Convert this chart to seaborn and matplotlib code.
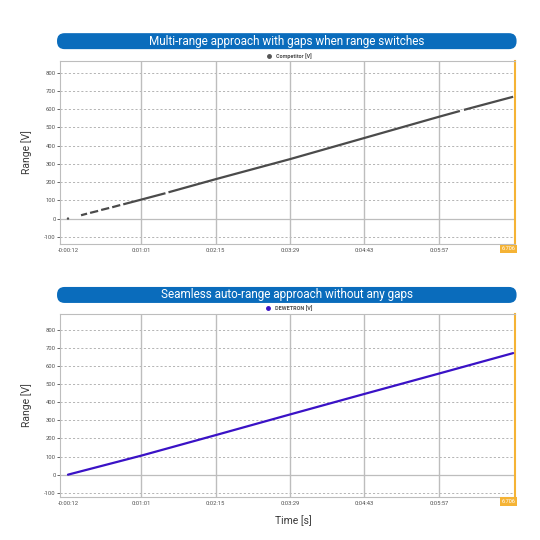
import matplotlib
matplotlib.use("Agg")
import matplotlib.pyplot as plt
from matplotlib.patches import FancyBboxPatch
from matplotlib.lines import Line2D
import seaborn as sns
import pandas as pd

# --- data ---
tick_times = [-12, 61, 135, 209, 283, 357]
tick_labels = ["-0:00:12", "0:01:01", "0:02:15", "0:03:29", "0:04:43", "0:05:57"]
cursor_label = "6.706"
y_ticks = [-100, 0, 100, 200, 300, 400, 500, 600, 700, 800]

# competitor: dashed-looking trace, gaps whenever range switches
comp_time = [1, 7, 10, 18, 21, 29, 32, 40, 43, 61, 85, 88, 135, 209, 283, 357, 378, 382, 431]
comp_value = [18, 27, 31, 42, 47, 58, 62, 74, 78, 104, 139, 144, 216, 326, 442, 558, 590, 596, 668]
comp_segment = [0, 0, 1, 1, 2, 2, 3, 3, 4, 4, 4, 5, 5, 5, 5, 5, 5, 6, 6]
comp_start_time = [-12]
comp_start_value = [0]

# dewetron: seamless trace
dew_time = [-12, 61, 135, 209, 283, 357, 431]
dew_value = [0, 105, 218, 332, 445, 557, 670]

titles = ["Multi-range approach with gaps when range switches",
          "Seamless auto-range approach without any gaps"]
legend_names = ["Competitor [V]", "DEWETRON [V]"]

comp_df = pd.DataFrame({"time": comp_time, "value": comp_value, "segment": comp_segment})
dew_df = pd.DataFrame({"time": dew_time, "value": dew_value, "segment": 0})
start_df = pd.DataFrame({"time": comp_start_time, "value": comp_start_value})

sns.set_style("white")
plt.rcParams["font.family"] = ["Roboto", "DejaVu Sans"]

BLUE = "#0a6cbc"
ORANGE = "#f5b335"
GRID = "#bdbdbd"
TXT = "#505050"

fig = plt.figure(figsize=(5.4, 5.4), dpi=100)
ax_top = fig.add_axes([0.111, 0.548, 0.843, 0.339])
ax_bot = fig.add_axes([0.111, 0.080, 0.843, 0.339])


def style_axis(ax, ylim):
    ax.set_xlim(-20, 433)
    ax.set_ylim(*ylim)
    ax.set_yticks(y_ticks)
    ax.set_yticklabels([str(v) for v in y_ticks])
    ax.set_xticks(tick_times)
    ax.set_xticklabels(tick_labels)
    ax.tick_params(axis="y", labelsize=4.2, colors=TXT, length=2, width=0.6, pad=1, left=True)
    ax.tick_params(axis="x", labelsize=4.2, colors=TXT, length=0, pad=3)
    for v in y_ticks:
        if v == 0:
            ax.axhline(v, color=GRID, lw=0.9, zorder=1)
        else:
            ax.axhline(v, color="#a8a8a8", lw=0.6, ls=(0, (2.5, 2.5)), zorder=1)
    for t in tick_times[1:]:
        ax.axvline(t, color=GRID, lw=1.0, zorder=1)
    for side in ["left", "bottom", "top"]:
        ax.spines[side].set_color(GRID)
        ax.spines[side].set_linewidth(0.8)
    ax.spines["right"].set_color(ORANGE)
    ax.spines["right"].set_linewidth(1.5)
    ax.set_xlabel("")
    ax.set_ylabel("")
    ax.text(1.0, -0.012, cursor_label, transform=ax.transAxes, ha="right", va="top",
            fontsize=4, color="white",
            bbox=dict(facecolor=ORANGE, edgecolor="none", pad=1.2))


# top: competitor
sns.lineplot(data=comp_df, x="time", y="value", units="segment", estimator=None,
             color="#4b4b4b", lw=1.6, solid_capstyle="butt", ax=ax_top, zorder=3)
sns.scatterplot(data=start_df, x="time", y="value", color="#4b4b4b", s=3,
                edgecolor="none", ax=ax_top, zorder=3)
style_axis(ax_top, (-140, 864))

# bottom: dewetron
sns.lineplot(data=dew_df, x="time", y="value", units="segment", estimator=None,
             color="#3a12c6", lw=1.6, ax=ax_bot, zorder=3)
style_axis(ax_bot, (-122, 887))

# legends above each plot
for ax, name, col in [(ax_top, legend_names[0], "#555555"), (ax_bot, legend_names[1], "#3a12c6")]:
    h = Line2D([], [], marker="o", color=col, linestyle="none", markersize=2.5)
    ax.legend([h], [name], loc="lower center", bbox_to_anchor=(0.5, 0.995), frameon=False,
              labelcolor=TXT, handletextpad=0.2, borderpad=0.1,
              prop={"weight": "bold", "size": 4})

# title banners
for y0, title in [(0.909, titles[0]), (0.439, titles[1])]:
    fig.add_artist(FancyBboxPatch((0.1056, y0), 0.851, 0.0296,
                                  boxstyle="round,pad=0,rounding_size=0.014",
                                  transform=fig.transFigure, facecolor=BLUE,
                                  edgecolor="none"))
    fig.text(0.531, y0 + 0.0148, title, ha="center", va="center", color="white",
             fontsize=8.5)

# axis labels
fig.text(0.05, 0.718, "Range [V]", rotation=90, ha="center", va="center",
         fontsize=7.5, color="#3a3a3a")
fig.text(0.05, 0.250, "Range [V]", rotation=90, ha="center", va="center",
         fontsize=7.5, color="#3a3a3a")
fig.text(0.543, 0.035, "Time [s]", ha="center", va="center",
         fontsize=7.5, color="#3a3a3a")

plt.savefig("out.png", dpi=100)
plt.close()
